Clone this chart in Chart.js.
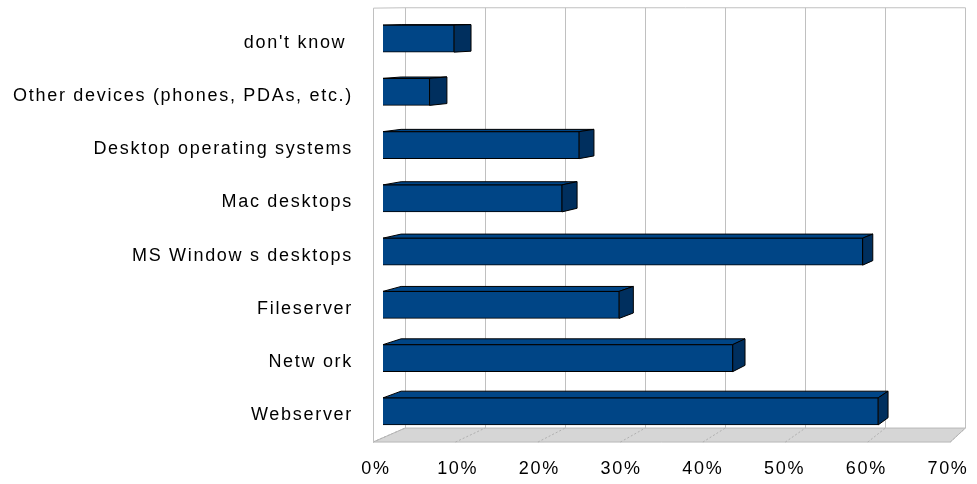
<!DOCTYPE html>
<html>
<head>
<meta charset="utf-8">
<script src="https://cdn.jsdelivr.net/npm/chart.js@4"></script>
<style>
    body { margin: 0; background: #ffffff; }
    #box { width: 977px; height: 484px; }
</style>
</head>
<body>
<div id="box"><canvas id="usageChart"></canvas></div>
<script>
const categories = ["don't know ", "Other devices (phones, PDAs, etc.)", "Desktop operating systems", "Mac desktops", "MS Window s desktops", "Fileserver", "Netw ork", "Webserver"]
const shares = [8.7, 5.7, 24.0, 21.9, 58.7, 28.9, 42.8, 60.6]
const xTicks = [0, 10, 20, 30, 40, 50, 60, 70]

// perspective helpers (vanishing point off to the upper right)
const VP = {x: 1470, y: -4}
const toward = (x, y, f) => [VP.x + (x - VP.x) * f, VP.y + (y - VP.y) * f]
const BAR_DEPTH = 1 - 1 / 60
const FRONT = 1 / 0.9909
const BACK = 0.9797

const box3d = {
    id: "box3d",
    beforeDraw(chart) {
        chart.ctx.letterSpacing = "1.7px"
    },
    beforeDatasetsDraw(chart) {
        const ctx = chart.ctx
        const xs = chart.scales.x
        const area = chart.chartArea
        const top = area.top - 4
        const bottom = area.bottom
        ctx.save()
        ctx.letterSpacing = "0px"

        // floor
        const p0 = xs.getPixelForValue(xTicks[0])
        const p1 = xs.getPixelForValue(xTicks[xTicks.length - 1])
        const fl = toward(p0, bottom, FRONT), fr = toward(p1, bottom, FRONT)
        const bl = toward(p0, bottom - 1, BACK), br = toward(p1, bottom - 1, BACK)
        ctx.beginPath()
        ctx.moveTo(fl[0], fl[1]); ctx.lineTo(fr[0], fr[1])
        ctx.lineTo(br[0], br[1]); ctx.lineTo(bl[0], bl[1])
        ctx.closePath()
        ctx.fillStyle = "#d6d6d6"
        ctx.fill()
        ctx.strokeStyle = "#b8b8b8"
        ctx.lineWidth = 1
        ctx.stroke()

        // grid on back wall + floor lines
        xTicks.forEach(v => {
            const p = xs.getPixelForValue(v)
            const a = toward(p, top, BACK), b = toward(p, bottom - 1, BACK)
            ctx.strokeStyle = "#c0c0c0"
            ctx.setLineDash([])
            ctx.beginPath()
            ctx.moveTo(Math.round(a[0]) + 0.5, a[1])
            ctx.lineTo(Math.round(b[0]) + 0.5, b[1])
            ctx.stroke()
            const c = toward(p, bottom, FRONT)
            ctx.strokeStyle = "#b0b0b0"
            ctx.setLineDash([2, 2])
            ctx.beginPath()
            ctx.moveTo(c[0], c[1])
            ctx.lineTo(b[0], b[1])
            ctx.stroke()
        })
        ctx.setLineDash([])

        // wall edges
        const tl = toward(p0, top, FRONT), tb = toward(p0, top, BACK), trb = toward(p1, top, BACK)
        ctx.strokeStyle = "#c0c0c0"
        ctx.beginPath()
        ctx.moveTo(Math.round(fl[0]) + 0.5, fl[1])
        ctx.lineTo(Math.round(tl[0]) + 0.5, tl[1])
        ctx.lineTo(tb[0], tb[1])
        ctx.lineTo(trb[0], trb[1])
        ctx.stroke()

        // bar tops and sides
        const meta = chart.getDatasetMeta(0)
        meta.data.forEach(bar => {
            const y0 = bar.y - bar.height / 2
            const y1 = bar.y + bar.height / 2
            const a = toward(bar.base, y0, BAR_DEPTH)
            const b = toward(bar.x, y0, BAR_DEPTH)
            const c = toward(bar.x, y1, BAR_DEPTH)
            ctx.strokeStyle = "#000000"
            ctx.beginPath()
            ctx.moveTo(bar.base, y0); ctx.lineTo(bar.x, y0)
            ctx.lineTo(b[0], b[1]); ctx.lineTo(a[0], a[1])
            ctx.closePath()
            ctx.fillStyle = "#004586"
            ctx.fill()
            ctx.stroke()
            ctx.beginPath()
            ctx.moveTo(bar.x, y0); ctx.lineTo(b[0], b[1])
            ctx.lineTo(c[0], c[1]); ctx.lineTo(bar.x, y1)
            ctx.closePath()
            ctx.fillStyle = "#002f5e"
            ctx.fill()
            ctx.stroke()
        })
        ctx.restore()
    }
}

const ctx = document.getElementById("usageChart").getContext("2d")
const font = {family: "'Liberation Sans', Arial, sans-serif", size: 18}

new Chart(ctx, {
    type: "bar",
    data: {
        labels: categories,
        datasets: [{
            data: shares,
            backgroundColor: "#004586",
            borderColor: "#000000",
            borderWidth: 1,
            barThickness: 27
        }]
    },
    options: {
        indexAxis: "y",
        responsive: true,
        maintainAspectRatio: false,
        animation: false,
        layout: {padding: {top: 12, right: 22, left: 0, bottom: 0}},
        plugins: {legend: {display: false}, tooltip: {enabled: false}},
        scales: {
            x: {
                min: 0,
                max: 70,
                afterFit: s => { s.height = 46; s.paddingLeft = 0; s.paddingRight = 0 },
                grid: {display: false},
                border: {display: false},
                ticks: {
                    stepSize: 10,
                    padding: 12,
                    labelOffset: -7,
                    color: "#000000",
                    font,
                    maxRotation: 0,
                    callback: v => v + "%"
                }
            },
            y: {
                afterFit: s => { s.width = 383; s.paddingTop = 0; s.paddingBottom = 0 },
                grid: {display: false},
                border: {display: false},
                ticks: {
                    padding: 22,
                    labelOffset: 4,
                    color: "#000000",
                    font
                }
            }
        }
    },
    plugins: [box3d]
})
</script>
</body>
</html>
